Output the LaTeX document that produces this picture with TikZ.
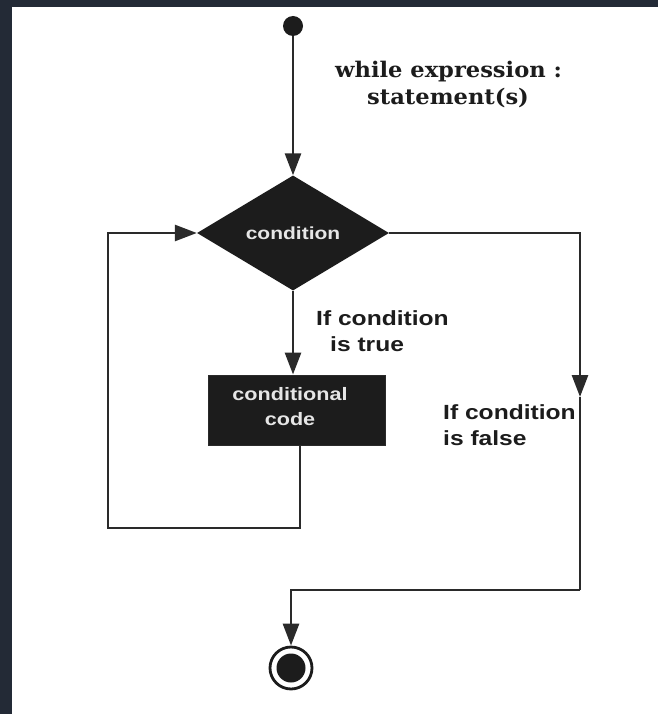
\documentclass[tikz,border=0pt]{standalone}
\usepackage{fontspec}
\usepackage{graphicx}
\setmainfont{Liberation Sans}
\newfontfamily\serifbold{DejaVu Serif}
\usetikzlibrary{shapes.geometric,arrows.meta,positioning}
\definecolor{frame}{HTML}{232A36}
\definecolor{ink}{HTML}{1C1C1C}
\definecolor{linec}{HTML}{2A2A2A}
\definecolor{wtext}{HTML}{E6E6E6}
\newcommand{\stx}[1]{\scalebox{1.2}[1]{#1}}
\newcommand{\sty}[1]{\scalebox{1.05}[1]{#1}}
\tikzset{
  flow/.style={draw=linec, line width=2.8pt},
  arr/.style={flow, -{Triangle[length=22pt,width=16pt]}},
  decision/.style={diamond, fill=ink, inner sep=0pt, aspect=1.67, minimum width=192pt, minimum height=115pt, text=wtext, font=\bfseries\fontsize{17.5}{20}\selectfont},
  process/.style={rectangle, fill=ink, draw=linec, line width=1pt, minimum width=177pt, minimum height=70pt, text=wtext, align=center, font=\bfseries\fontsize{18}{25}\selectfont},
  lbl/.style={font=\bfseries\fontsize{20.5}{26}\selectfont, text=ink, inner sep=0pt},
  code/.style={font=\serifbold\bfseries\fontsize{21.5}{26}\selectfont, text=ink, inner sep=0pt, anchor=west}
}
\begin{document}
\begin{tikzpicture}[x=1pt,y=-1pt]
\useasboundingbox (0,0) rectangle (658,714);
\fill[frame] (0,0) rectangle (658,714);
\fill[white] (12,7) rectangle (658,714);
% start
\node[circle, fill=ink, minimum size=20pt, inner sep=0pt] (start) at (293,26) {};
% decision
\node[decision] (cond) at (293,233) {\stx{condition}};
% process
\node[process] (body) at (296.5,410) {};
\node[text=wtext, align=center, font=\bfseries\fontsize{18}{25}\selectfont] (bodytxt) at (290,407) {\stx{conditional}\\\stx{code}};
% end
\node[circle, draw=ink, line width=2.8pt, fill=white, minimum size=42pt, inner sep=0pt] (stop) at (291,668) {};
\node[circle, fill=ink, minimum size=29pt, inner sep=0pt] (stopin) at (stop) {};
% coordinates
\coordinate (bodyout) at (300,446);
\coordinate (loopa) at (300,528);
\coordinate (loopb) at (108,528);
\coordinate (loopc) at (loopb |- cond.west);
\coordinate (ra) at (580,233);
\coordinate (rb) at (580,397);
\coordinate (rc) at (580,590);
\coordinate (rd) at (291,590);
% connectors
\draw[arr] (start.south) -- (cond.north);
\draw[arr] (cond.south) -- (cond.south |- body.north);
\draw[arr] (bodyout) -- (loopa) -- (loopb) -- (loopc) -- (cond.west);
\draw[arr] (cond.east) -- (ra) -- (rb);
\draw[flow] (rb) -- (rc);
\draw[arr] (rc) -- (rd) -- (stop.north);
% labels
\node[lbl, anchor=west] (t1) at (316,318) {\stx{If condition}};
\node[lbl, anchor=west] (t2) at (330,344) {\stx{is true}};
\node[lbl, anchor=west] (f1) at (443,412) {\stx{If condition}};
\node[lbl, anchor=west] (f2) at (443,438) {\stx{is false}};
\node[code] (w1) at (335,72) {\sty{while expression :}};
\node[code] (w2) at (367,98) {\sty{statement(s)}};
\end{tikzpicture}
\end{document}
